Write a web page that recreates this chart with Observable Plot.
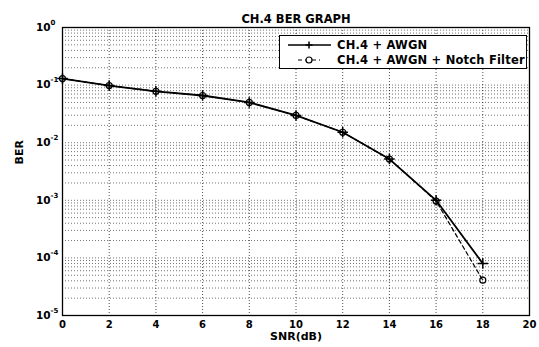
<!DOCTYPE html>
<html>
<head>
<meta charset="utf-8">
<script src="https://cdn.jsdelivr.net/npm/d3@7"></script>
<script src="https://cdn.jsdelivr.net/npm/@observablehq/plot@0.6"></script>
<style>
  body { margin: 0; background: #fff; }
  #chart { position: relative; width: 539px; height: 347px; font-family: "DejaVu Sans", "Liberation Sans", Arial, sans-serif; }
  #chart svg { display: block; }
  .legend {
    position: absolute; left: 279px; top: 35px; width: 246px; height: 32px;
    border: 1.5px solid #000; background: #fff;
    font-size: 11.5px; font-weight: bold; color: #000;
  }
  .legend .row { position: absolute; left: 0; height: 16px; display: flex; align-items: center; }
  .legend .row svg { width: 56px; height: 16px; }
  .legend .row span { margin-left: 1px; letter-spacing: 0.2px; }
</style>
</head>
<body>
<div id="chart"></div>
<script>
// SNR sweep (dB) and measured bit error rates
const snr = [0, 2, 4, 6, 8, 10, 12, 14, 16, 18];
const berAwgn = [0.130, 0.098, 0.078, 0.066, 0.050, 0.0297, 0.0152, 0.0052, 0.00100, 0.000080];
const berNotch = [0.130, 0.098, 0.078, 0.066, 0.050, 0.0297, 0.0152, 0.0052, 0.00097, 0.000041];

const seriesNames = ["CH.4 + AWGN", "CH.4 + AWGN + Notch Filter"];
const titleText = "CH.4 BER GRAPH";
const xLabel = "SNR(dB)";
const yLabel = "BER";

const xTicks = [0, 2, 4, 6, 8, 10, 12, 14, 16, 18, 20];
const yTicks = [1, 0.1, 0.01, 0.001, 0.0001, 0.00001];
const yTickBase = "10";
const yTickExponents = ["0", "-1", "-2", "-3", "-4", "-5"];

const rows = [
  ...snr.map((s, i) => ({snr: s, ber: berAwgn[i], series: seriesNames[0]})),
  ...snr.map((s, i) => ({snr: s, ber: berNotch[i], series: seriesNames[1]}))
];
const awgnRows = rows.filter(d => d.series === seriesNames[0]);
const notchRows = rows.filter(d => d.series === seriesNames[1]);

// log grid: every 1..9 multiple of each decade
const logGrid = d3.scaleLog().domain([1e-5, 1]).ticks();

const grid = {stroke: "#000", strokeOpacity: 0.55, strokeDasharray: "1,2", strokeWidth: 1};

const plot = Plot.plot({
  width: 539,
  height: 347,
  marginLeft: 62,
  marginRight: 10,
  marginTop: 27,
  marginBottom: 32,
  style: {fontFamily: "DejaVu Sans, Liberation Sans, Arial, sans-serif", fontSize: "10px", fontWeight: "bold", color: "#000", background: "#fff"},
  x: {domain: [0, 20]},
  y: {type: "log", domain: [1e-5, 1], axis: null},
  marks: [
    Plot.gridY(logGrid, grid),
    Plot.gridX(xTicks, {...grid, strokeOpacity: 0.7}),
    Plot.frame({stroke: "#000", strokeWidth: 1.3}),
    Plot.axisX(xTicks, {tickSize: 0, tickPadding: 5, label: null, tickFormat: d => String(d)}),
    // y tick labels as 10 with a raised exponent
    Plot.text(yTicks, {y: d => d, frameAnchor: "left", dx: -12, textAnchor: "end", text: () => yTickBase, fontSize: 10.5}),
    Plot.text(yTicks, {y: d => d, frameAnchor: "left", dx: -12, dy: -5, textAnchor: "start", text: (d, i) => yTickExponents[i], fontSize: 7}),
    Plot.line(notchRows, {x: "snr", y: "ber", stroke: "#000", strokeWidth: 1.2, strokeDasharray: "4,3"}),
    Plot.line(awgnRows, {x: "snr", y: "ber", stroke: "#000", strokeWidth: 1.8}),
    Plot.dot(notchRows, {x: "snr", y: "ber", symbol: "circle", r: 3, stroke: "#000", strokeWidth: 1.2, fill: "none"}),
    Plot.dot(awgnRows, {x: "snr", y: "ber", symbol: "plus", r: 3.5, stroke: "#000", strokeWidth: 1.5}),
    Plot.text([titleText], {frameAnchor: "top", dy: -13, fontSize: 11.5, fontWeight: "bold", letterSpacing: 0.4}),
    Plot.text([xLabel], {frameAnchor: "bottom", dy: 24, fontSize: 11, fontWeight: "bold"}),
    Plot.text([yLabel], {frameAnchor: "left", dx: -43, dy: -7, rotate: -90, fontSize: 11, fontWeight: "bold"})
  ]
});

const chart = document.getElementById("chart");
chart.appendChild(plot);

// Legend box with line/marker samples
const legend = document.createElement("div");
legend.className = "legend";
legend.innerHTML = `
  <div class="row" style="top:1px">
    <svg viewBox="0 0 56 16"><line x1="8" y1="8" x2="51" y2="8" stroke="#000" stroke-width="1.5"/>
      <path d="M29,4.5V11.5M25.5,8H32.5" stroke="#000" stroke-width="1.5"/></svg>
    <span>${seriesNames[0]}</span>
  </div>
  <div class="row" style="top:16px">
    <svg viewBox="0 0 56 16"><line x1="18" y1="8" x2="40" y2="8" stroke="#000" stroke-width="1.2" stroke-dasharray="4,3"/>
      <circle cx="29" cy="8" r="3" fill="#fff" stroke="#000" stroke-width="1.2"/></svg>
    <span>${seriesNames[1]}</span>
  </div>`;
chart.appendChild(legend);
</script>
</body>
</html>
